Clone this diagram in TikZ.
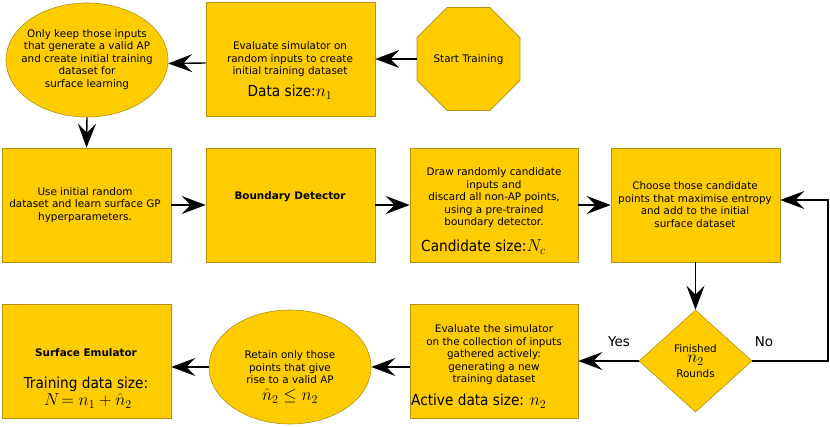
\documentclass[tikz,border=0pt]{standalone}
\usepackage{fontspec}
\setmainfont{DejaVu Sans}
\newfontfamily\condfont{DejaVu Sans Condensed}
\usetikzlibrary{shapes.geometric,arrows.meta}
\definecolor{gold}{RGB}{255,204,0}
\definecolor{goldedge}{RGB}{175,145,20}
\newcommand\mymath[1]{{\fontsize{17.28}{18}\selectfont$#1$}}
\tikzset{
  shapebase/.style={draw=goldedge, fill=gold, line width=0.6pt, inner sep=0pt},
  boxnode/.style={shapebase, rectangle, minimum width=169pt, minimum height=114pt},
  ellnode/.style={shapebase, ellipse, minimum width=162pt, minimum height=114pt},
  txt/.style={align=center, inner sep=0pt, font=\fontsize{10.4}{12.5}\selectfont},
  bigtxt/.style={inner sep=0pt, font=\condfont\fontsize{15.2}{18}\selectfont},
  arr/.style={line width=1.4pt, -{Stealth[length=24pt,width=18pt,inset=9pt]}},
  lbl/.style={inner sep=0pt, font=\fontsize{13.5}{14}\selectfont}
}
\begin{document}
\begin{tikzpicture}[x=1pt,y=-1pt]
\useasboundingbox (0,0) rectangle (830,427);
% shapes
\node[boxnode] (box1) at (290.5,59.5) {};
\node[ellnode] (e1) at (87,60) {};
\node[shapebase, regular polygon, regular polygon sides=8, minimum size=111.5pt] (oct) at (468.5,59) {};
\node[boxnode] (bA) at (86.5,205) {};
\node[boxnode] (bB) at (290.5,205) {};
\node[boxnode, minimum width=168pt] (bC) at (494,205) {};
\node[boxnode] (bD) at (695.5,205) {};
\node[boxnode] (bS) at (86.5,361) {};
\node[ellnode] (e2) at (290,367) {};
\node[boxnode, minimum width=168pt] (bE) at (494,361) {};
\node[shapebase, diamond, minimum width=113pt, minimum height=102pt] (dia) at (695.5,361) {};
% texts
\node[txt] (t1) at (290,59.5) {Evaluate simulator on\\random inputs to create\\initial training dataset};
\node[bigtxt] (d1) at (290,92) {Data size:\mymath{n_1}};
\node[txt] (te1) at (87,59.5) {Only keep those inputs\\that generate a valid AP\\and create initial training\\dataset for\\surface learning};
\node[txt] (to) at (468.5,60) {Start Training};
\node[txt] (tA) at (85,205) {Use initial random\\dataset and learn surface GP\\hyperparameters.};
\node[txt, font=\bfseries\fontsize{10.4}{12.5}\selectfont] (tB) at (290,197) {Boundary Detector};
\node[txt] (tC) at (494,198) {Draw randomly candidate\\inputs and\\discard all non-AP points,\\using a pre-trained\\boundary detector.};
\node[bigtxt, anchor=west] (cC) at (421,247) {Candidate size:\mymath{N_c}};
\node[txt] (tD) at (695,204.5) {Choose those candidate\\points that maximise entropy\\and add to the initial\\surface dataset};
\node[txt, font=\bfseries\fontsize{10.4}{12.5}\selectfont] (tS) at (86,353) {Surface Emulator};
\node[bigtxt] (tS2) at (86,384) {Training data size:};
\node[inner sep=0pt] (tS3) at (88,401) {\mymath{N\!=n_1+\hat n_2}};
\node[txt] (te2) at (290,367.5) {Retain only those\\points that give\\rise to a valid AP};
\node[inner sep=0pt] (me2) at (290,396) {\mymath{\hat n_2\leq n_2}};
\node[txt] (tE) at (494,355) {Evaluate the simulator\\on the collection of inputs\\gathered actively:\\generating a new\\training dataset};
\node[bigtxt, anchor=west] (aE) at (411,401) {Active data size: \mymath{n_2}};
\node[txt] (tdia1) at (695.5,349) {Finished};
\node[inner sep=0pt] (tdia2) at (695.5,360) {\mymath{n_2}};
\node[txt] (tdia3) at (695.5,374) {Rounds};
\node[lbl] (yes) at (619,342) {Yes};
\node[lbl] (no) at (764,342) {No};
% connectors
\draw[arr] (oct.west) -- (box1.east |- oct.west);
\draw[arr] ([yshift=-3.5pt]box1.west) -- ([yshift=-3.5pt]e1.east);
\draw[arr] (e1.south) -- (bA.north);
\draw[arr] (bA.east) -- (bB.west);
\draw[arr] (bB.east) -- (bC.west);
\draw[arr] (bC.east) -- (bD.west);
\draw[arr] (bD.south) -- (dia.north);
\coordinate (cr) at (828,361);
\draw[arr] (dia.east) -- (cr) |- ([yshift=5pt]bD.east);
\draw[arr] (dia.west) -- (bE.east);
\draw[arr] ([yshift=-6pt]bE.west) -- (e2.east);
\draw[arr] (e2.west) -- (e2.west -| bS.east);
\end{tikzpicture}
\end{document}
